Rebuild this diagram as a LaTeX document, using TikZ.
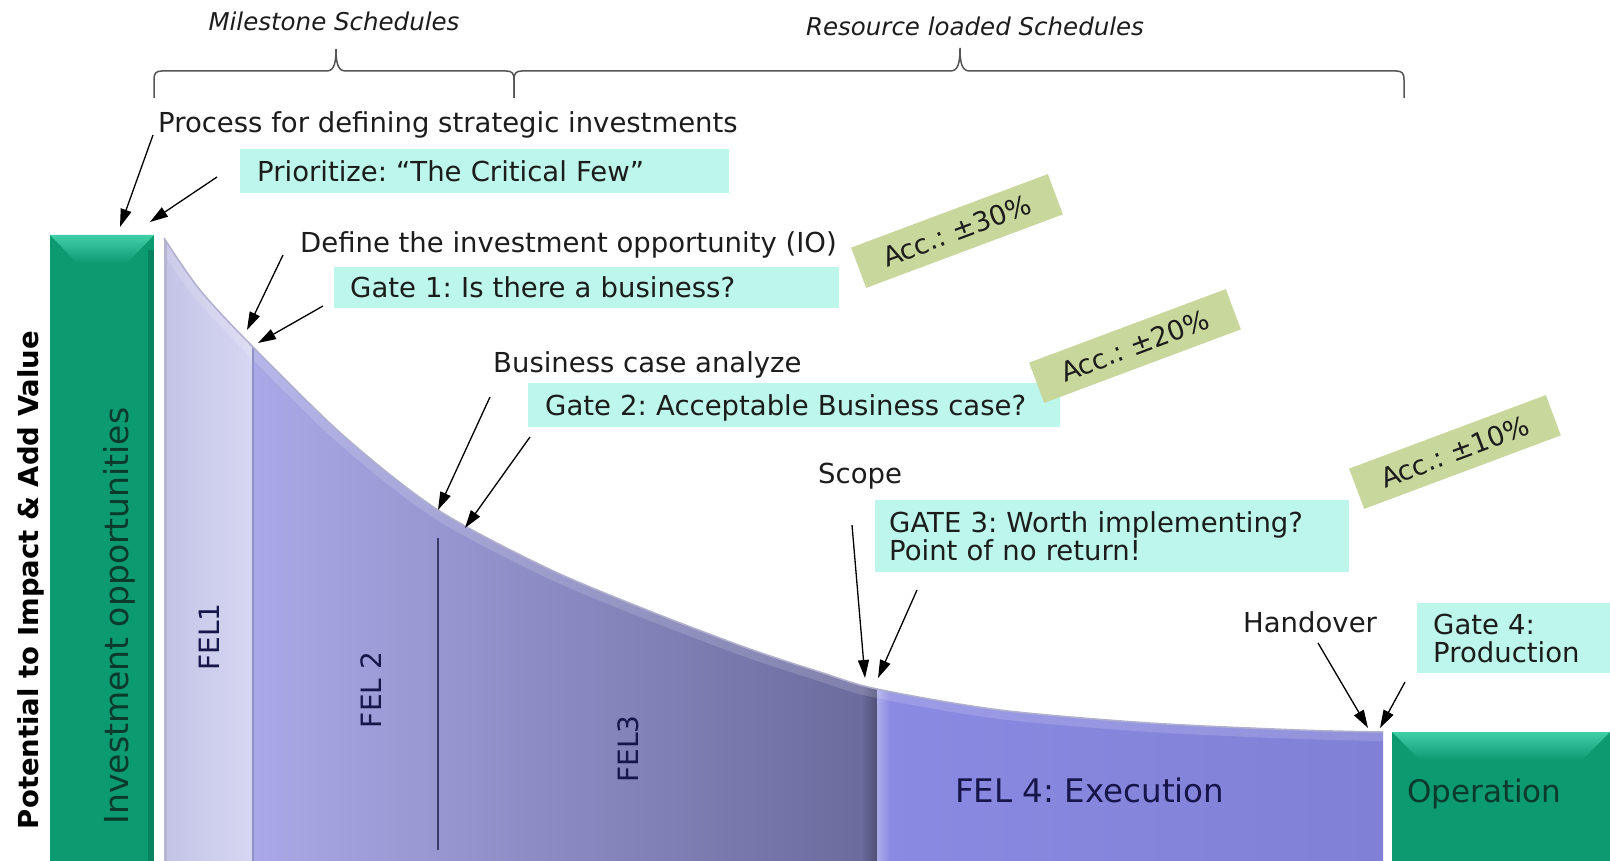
\documentclass[tikz,border=0pt]{standalone}
\usepackage{fontspec}
\setmainfont{DejaVu Sans}
\usetikzlibrary{arrows.meta}
\frenchspacing
\definecolor{aqua}{HTML}{BDF6EA}
\definecolor{accgr}{HTML}{C8D89D}
\definecolor{grn}{HTML}{0C9A71}
\definecolor{grnlt}{HTML}{40D0A8}
\definecolor{grndk}{HTML}{07845F}
\definecolor{felA}{HTML}{C3C3E6}
\definecolor{felB}{HTML}{D7D7F3}
\definecolor{felC}{HTML}{A9A9E7}
\definecolor{felD}{HTML}{6A6A9C}
\definecolor{felE}{HTML}{8A8AE2}
\definecolor{felF}{HTML}{8080D6}
\definecolor{edge}{HTML}{B0B0CE}
\definecolor{navy}{HTML}{16164A}
\definecolor{txt}{HTML}{1C1C1C}
\definecolor{dgrn}{HTML}{0B3A2D}
\definecolor{brc}{HTML}{555555}
\tikzset{
  lbl/.style={inner sep=0pt, text=txt, anchor=base west, font=\fontsize{27.5}{33}\selectfont},
  gbox/.style={fill=aqua, anchor=north west, inner ysep=0pt, text=txt, align=left, font=\fontsize{27.5}{28}\selectfont},
  onel/.style={text height=25pt, text depth=5pt},
  accbox/.style={fill=accgr, rotate=20.5, minimum width=210pt, minimum height=43pt, inner sep=0pt, text=txt, font=\fontsize{27}{30}\selectfont},
  vlbl/.style={rotate=90, anchor=base, inner sep=0pt},
  fel/.style={vlbl, text=navy, font=\fontsize{28}{30}\selectfont},
  arr/.style={-{Triangle[length=18pt,width=11pt]}, line width=1.3pt, black},
  brace/.style={line width=1.5pt, brc},
}
\begin{document}
\begin{tikzpicture}[x=1pt,y=-1pt]
\useasboundingbox (0,0) rectangle (1610,861);
\fill[white] (0,0) rectangle (1610,861);

% braces
\draw[brace] (154,98) -- (154,80) .. controls (154,73) and (156,71) .. (162,71) -- (326,71)
  .. controls (333,71) and (336,66) .. (336,49) .. controls (336,66) and (339,71) .. (346,71)
  -- (506,71) .. controls (512,71) and (514,73) .. (514,80) -- (514,98);
\draw[brace] (514,98) -- (514,80) .. controls (514,73) and (516,71) .. (522,71) -- (950,71)
  .. controls (957,71) and (960,66) .. (960,48) .. controls (960,66) and (963,71) .. (970,71)
  -- (1396,71) .. controls (1402,71) and (1404,73) .. (1404,80) -- (1404,98);

% green bars
\fill[grn] (50,235) rectangle (154,861);
\shade[top color=grnlt, bottom color=grn] (50,235) -- (154,235) -- (127,263) -- (77,263) -- cycle;
\fill[grndk] (148,250) rectangle (154,861);
\fill[grn] (1392,732) rectangle (1610,861);
\shade[top color=grnlt, bottom color=grn] (1392,732) -- (1610,732) -- (1582,760) -- (1420,760) -- cycle;

% FEL area
\begin{scope}
\clip (164,861) -- plot[smooth,tension=0.5] coordinates {(164,238) (200,290) (253,347) (345,437) (438,510) (547,568) (647,610) (747,648) (820,672) (877,689) (1000,710) (1150,723) (1300,730) (1383,732)} -- (1383,861) -- cycle;
\shade[left color=felA, right color=felB] (164,200) rectangle (253,861);
\shade[left color=felC, right color=felD] (253,200) rectangle (877,861);
\shade[left color=felE, right color=felF] (877,200) rectangle (1383,861);
\shade[left color=felD, right color=felD!75!black] (862,600) rectangle (877,861);
\shade[left color=felE!70!white, right color=felE] (877,600) rectangle (890,861);
\draw[white, opacity=0.15, line width=18pt] plot[smooth,tension=0.5] coordinates {(164,238) (200,290) (253,347) (345,437) (438,510) (547,568) (647,610) (747,648) (820,672) (877,689) (1000,710) (1150,723) (1300,730) (1383,732)};
\fill[felA!80!gray] (164,200) rectangle (167,861);
\draw[felC!85!black, line width=1.5pt] (253,300) -- (253,861);
\end{scope}
\draw[edge, line width=1.5pt] plot[smooth,tension=0.5] coordinates {(164,238) (200,290) (253,347) (345,437) (438,510) (547,568) (647,610) (747,648) (820,672) (877,689) (1000,710) (1150,723) (1300,730) (1383,732)};
\draw[navy!85, line width=1.6pt] (438,538) -- (438,850);

% labels
\node[lbl, anchor=base, font=\fontsize{24.5}{28}\selectfont\itshape] (ms) at (334,31) {Milestone Schedules};
\node[lbl, anchor=base, font=\fontsize{24.5}{28}\selectfont\itshape] (rl) at (975,36) {Resource loaded Schedules};
\node[lbl] (proc) at (158,133) {Process for defining strategic investments};
\node[gbox, onel, inner xsep=17pt, text width=455pt, minimum height=44pt] (prio) at (240,149) {Prioritize: “The Critical Few”};
\node[lbl] (def) at (300,253) {Define the investment opportunity (IO)};
\node[gbox, onel, inner xsep=16pt, text width=473pt, minimum height=41pt] (g1) at (334,267) {Gate 1: Is there a business?};
\node[lbl] (bca) at (493,372) {Business case analyze};
\node[gbox, onel, inner xsep=17pt, text width=498pt, minimum height=44pt] (g2) at (528,383) {Gate 2: Acceptable Business case?};
\node[lbl] (scope) at (818,483) {Scope};
\node[gbox, inner xsep=14pt, text width=446pt, minimum height=72pt] (g3) at (875,500) {GATE 3: Worth implementing?\\Point of no return!};
\node[lbl] (hand) at (1243,632) {Handover};
\node[gbox, inner xsep=16pt, text width=161pt, minimum height=70pt] (g4) at (1417,603) {Gate 4:\\Production};

\node[accbox] (acc1) at (957,231) {Acc.: ±30\%};
\node[accbox] (acc2) at (1135,346) {Acc.: ±20\%};
\node[accbox] (acc3) at (1455,452) {Acc.: ±10\%};

\node[vlbl, text=black, font=\bfseries\fontsize{27.5}{30}\selectfont] (pot) at (38,580) {Potential to Impact \& Add Value};
\node[vlbl, text=dgrn, font=\fontsize{33}{36}\selectfont] (inv) at (128,616) {Investment opportunities};
\node[fel] (f1) at (219,637) {FEL1};
\node[fel] (f2) at (381,690) {FEL 2};
\node[fel] (f3) at (638,749) {FEL3};
\node[lbl, text=navy, font=\fontsize{32.5}{36}\selectfont] (f4) at (955,802) {FEL 4: Execution};
\node[lbl, text=dgrn, font=\fontsize{31}{34}\selectfont] (op) at (1407,802) {Operation};

% arrow points
\coordinate (s1) at (153,135); \coordinate (t1) at (120,227);
\coordinate (s2) at (217,177); \coordinate (t2) at (150,222);
\coordinate (s3) at (283,255); \coordinate (t3) at (247,330);
\coordinate (s4) at (323,306); \coordinate (t4) at (258,343);
\coordinate (s5) at (490,397); \coordinate (t5) at (438,510);
\coordinate (s6) at (530,437); \coordinate (t6) at (465,528);
\coordinate (s7) at (852,525); \coordinate (t7) at (865,678);
\coordinate (s8) at (917,590); \coordinate (t8) at (878,678);
\coordinate (s9) at (1318,643); \coordinate (t9) at (1368,728);
\coordinate (s10) at (1405,682); \coordinate (t10) at (1380,728);
\foreach \i in {1,...,10} {\draw[arr] (s\i) -- (t\i);}
\end{tikzpicture}
\end{document}
